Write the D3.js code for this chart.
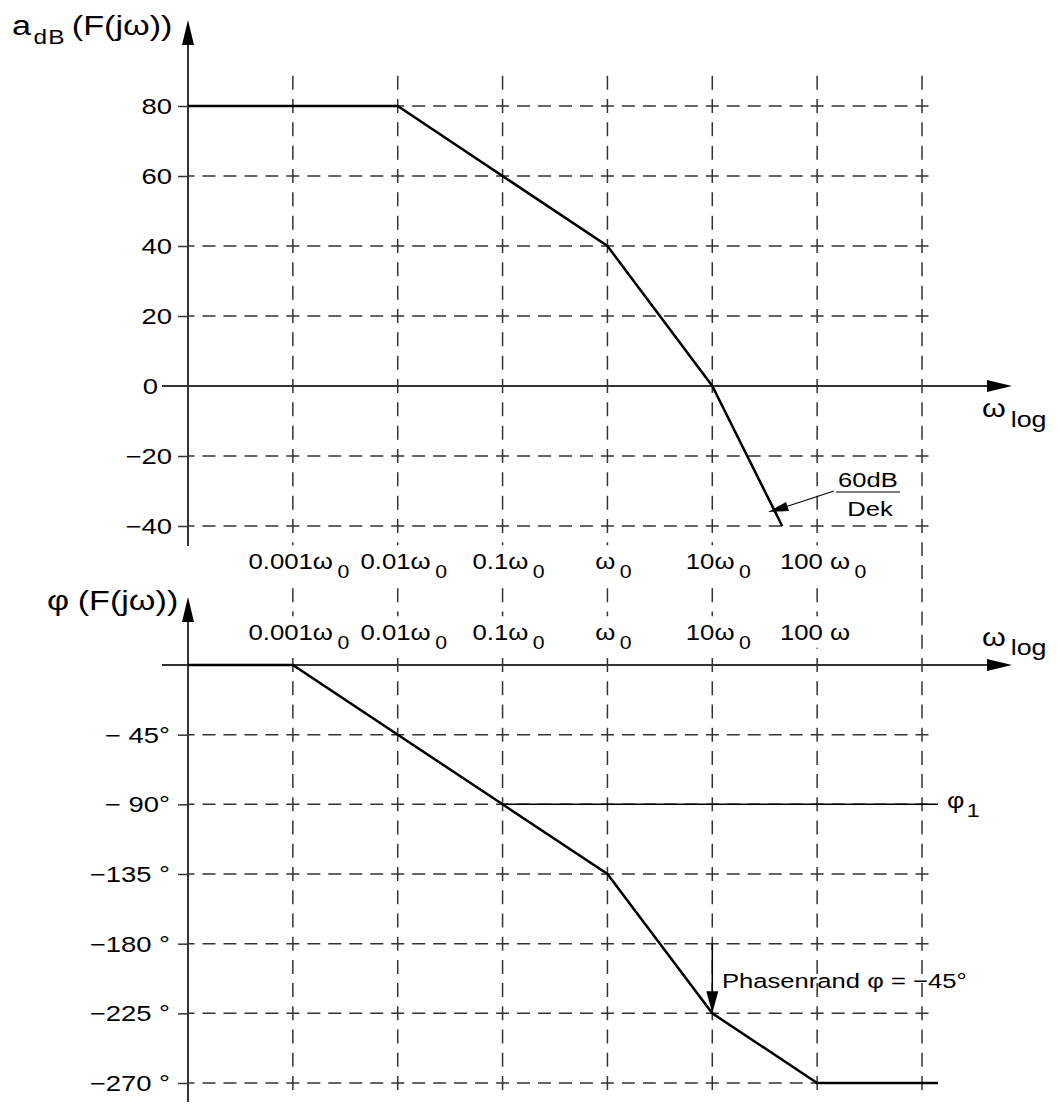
<!DOCTYPE html>
<html>
<head>
<meta charset="utf-8">
<script src="https://cdn.jsdelivr.net/npm/d3@7"></script>
<style>
  body { margin: 0; background: #fff; }
  text { font-family: "Liberation Sans", Arial, sans-serif; fill: #000; }
</style>
</head>
<body>
<script>
// decades in units of omega_0
const decades = [0.001, 0.01, 0.1, 1, 10, 100, 1000];
const magLabels = [["0.001ω", "0"], ["0.01ω", "0"], ["0.1ω", "0"], ["ω", "0"], ["10ω", "0"], ["100 ω", "0"]];
const phaseLabels = [["0.001ω", "0"], ["0.01ω", "0"], ["0.1ω", "0"], ["ω", "0"], ["10ω", "0"], ["100 ω", ""]];

const magTicks = [80, 60, 40, 20, 0, -20, -40];
const magTickLabels = ["80", "60", "40", "20", "0", "−20", "−40"];
const phaseTicks = [-45, -90, -135, -180, -225, -270];
const phaseTickLabels = ["− 45°", "− 90°", "−135 °", "−180 °", "−225 °", "−270 °"];

// asymptotic curves
const magW = [0.0001, 0.01, 1, 10, 46.4];
const magDb = [80, 80, 40, 0, -40];
const phaseW = [0.0001, 0.001, 0.1, 1, 10, 100, 1420];
const phaseDeg = [0, 0, -90, -135, -225, -270, -270];

const svg = d3.select("body").append("svg")
    .attr("width", 1058)
    .attr("height", 1106);

const x = d3.scaleLog().domain([0.0001, 1000]).range([188, 922]);
const yMag = d3.scaleLinear().domain([-40, 80]).range([526, 106]);
const yPh = d3.scaleLinear().domain([-270, 0]).range([1083, 665]);

const axisColor = "#333";
const gridRight = 930;
const SX = 1.22; // the lettering in the picture is a bit wide
const SX_LAB = 1.12;

function label(x0, y0, size, anchor, sx) {
  return svg.append("text")
      .attr("transform", `translate(${x0},${y0}) scale(${sx || SX},1)`)
      .attr("font-size", size)
      .attr("text-anchor", anchor || "start");
}

// dash offset so that a dash is centred on a given point
function dashOffset(start, centre, period, dash) {
  return (((dash / 2 - (centre - start)) % period) + period) % period;
}

// vertical grid lines, one segment per panel
const pMag = (yMag(40) - yMag(60)) / 3;
const pPh = (yPh(-45) - yPh(0)) / 3;
[[70, 546, yMag(80), pMag], [546, 1092, yPh(0), pPh]].forEach(([y1, y2, c, p]) => {
  svg.append("g").selectAll("line")
      .data(decades)
      .join("line")
      .attr("x1", d => x(d)).attr("x2", d => x(d))
      .attr("y1", y1).attr("y2", y2)
      .attr("stroke", axisColor)
      .attr("stroke-width", 1.5)
      .attr("stroke-dasharray", `14,${p - 14}`)
      .attr("stroke-dashoffset", dashOffset(y1, c, p, 14));
});

// horizontal grid lines
const pX = (x(0.001) - x(0.0001)) / 5;
function hGrid(vals, y) {
  svg.append("g").selectAll("line")
      .data(vals)
      .join("line")
      .attr("x1", 188).attr("x2", gridRight)
      .attr("y1", d => y(d)).attr("y2", d => y(d))
      .attr("stroke", axisColor)
      .attr("stroke-width", 1.5)
      .attr("stroke-dasharray", `13,${pX - 13}`)
      .attr("stroke-dashoffset", dashOffset(188, 188, pX, 13));
}
hGrid(magTicks.filter(d => d !== 0), yMag);
hGrid(phaseTicks, yPh);

// x labels with white background, hiding the grid behind them
function whiteBox(t, x0, y0) {
  const b = t.node().getBBox();
  svg.insert("rect", "text")
      .attr("x", x0 + b.x * SX_LAB - 3)
      .attr("y", b.y + y0 - 3)
      .attr("width", b.width * SX_LAB + 6)
      .attr("height", b.height + 6)
      .attr("fill", "#fff");
}
const rowStarts = [];
magLabels.forEach((l, i) => {
  const cx = x(decades[i]) + 6;
  const t = label(cx, 569, 23, "middle", SX_LAB);
  t.append("tspan").text(l[0]);
  t.append("tspan").attr("dx", 4).attr("dy", 9).attr("font-size", 19).text(l[1]);
  const b = t.node().getBBox();
  rowStarts.push(cx + b.x * SX_LAB);
  whiteBox(t, cx, 569);
});
phaseLabels.forEach((l, i) => {
  const sx = rowStarts[i];
  const t = label(sx, 640, 23, "start", SX_LAB);
  t.append("tspan").text(l[0]);
  if (l[1]) t.append("tspan").attr("dx", 4).attr("dy", 9).attr("font-size", 19).text(l[1]);
  whiteBox(t, sx, 640);
});

// y ticks
const magAxis = svg.append("g")
    .attr("transform", "translate(188,0)")
    .call(d3.axisLeft(yMag).tickValues(magTicks).tickSize(10).tickFormat(""));
const phAxis = svg.append("g")
    .attr("transform", "translate(188,0)")
    .call(d3.axisLeft(yPh).tickValues(phaseTicks).tickSize(10).tickFormat(""));
[magAxis, phAxis].forEach(a => {
  a.select(".domain").remove();
  a.selectAll(".tick line").attr("stroke", axisColor).attr("stroke-width", 1.5);
});
magAxis.selectAll(".tick").filter(d => d === 0).remove();

magTicks.forEach((d, i) => {
  label(d === 0 ? 158 : 172, yMag(d) + 8, 22.5, "end").text(magTickLabels[i]);
});
phaseTicks.forEach((d, i) => {
  label(170, yPh(d) + 8, 22.5, "end").text(phaseTickLabels[i]);
});

// axis lines and arrows
function vAxis(yTop, yBottom) {
  svg.append("line").attr("x1", 188).attr("x2", 188)
      .attr("y1", yBottom).attr("y2", yTop + 20)
      .attr("stroke", axisColor).attr("stroke-width", 2);
  svg.append("path")
      .attr("d", `M188,${yTop} L182,${yTop + 25} L194,${yTop + 25} Z`)
      .attr("fill", "#000");
}
function hAxis(yy) {
  svg.append("line").attr("x1", 162).attr("x2", 995)
      .attr("y1", yy).attr("y2", yy)
      .attr("stroke", axisColor).attr("stroke-width", 2);
  svg.append("path")
      .attr("d", `M1012,${yy} L987,${yy - 6} L987,${yy + 6} Z`)
      .attr("fill", "#000");
}
vAxis(20, 546);
hAxis(yMag(0));
vAxis(597, 1102);
hAxis(yPh(0));

// curves
const magLine = d3.line().x(d => x(d[0])).y(d => yMag(d[1]));
const phLine = d3.line().x(d => x(d[0])).y(d => yPh(d[1]));

svg.append("path")
    .datum(d3.zip(magW, magDb))
    .attr("d", magLine)
    .attr("fill", "none").attr("stroke", "#000").attr("stroke-width", 2.5);

svg.append("path")
    .datum(d3.zip(phaseW, phaseDeg))
    .attr("d", phLine)
    .attr("fill", "none").attr("stroke", "#000").attr("stroke-width", 2.5);

// phi_1 line at -90
svg.append("line")
    .attr("x1", x(0.1)).attr("x2", 938)
    .attr("y1", yPh(-90)).attr("y2", yPh(-90))
    .attr("stroke", "#000").attr("stroke-width", 1.5);
const phi1 = label(947, 808, 22);
phi1.append("tspan").text("φ");
phi1.append("tspan").attr("dx", 2).attr("dy", 9).attr("font-size", 19).text("1");

// phase margin arrow
svg.append("line")
    .attr("x1", x(10)).attr("x2", x(10))
    .attr("y1", yPh(-180)).attr("y2", yPh(-225) - 18)
    .attr("stroke", "#000").attr("stroke-width", 1.5);
svg.append("path")
    .attr("d", `M${x(10)},${yPh(-225)} L${x(10) - 6},${yPh(-225) - 22} L${x(10) + 6},${yPh(-225) - 22} Z`)
    .attr("fill", "#000");
label(722, 988, 21).text("Phasenrand φ = −45°");

// 60dB/Dek annotation
label(868, 487, 21, "middle").text("60dB");
svg.append("line").attr("x1", 836).attr("x2", 900).attr("y1", 492).attr("y2", 492)
    .attr("stroke", "#000").attr("stroke-width", 1.2);
label(870, 516, 21, "middle").text("Dek");
svg.append("line").attr("x1", 834).attr("y1", 491).attr("x2", 782).attr("y2", 508)
    .attr("stroke", "#000").attr("stroke-width", 1.2);
svg.append("path")
    .attr("d", "M768,512 L786,502 L789,511 Z")
    .attr("fill", "#000");

// axis titles
const t1 = label(12, 35, 28);
t1.append("tspan").text("a");
t1.append("tspan").attr("dx", 2).attr("dy", 9).attr("font-size", 20).attr("letter-spacing", 1).text("dB");
t1.append("tspan").attr("dx", 5).attr("dy", -9).text("(F(jω))");

const t2 = label(47, 610, 28);
t2.append("tspan").text("φ");
t2.append("tspan").attr("dx", 7).text("(F(jω))");

const w1 = label(982, 417, 25);
w1.append("tspan").text("ω");
w1.append("tspan").attr("dx", 4).attr("dy", 10).attr("font-size", 22).text("log");

const w2 = label(982, 646, 25);
w2.append("tspan").text("ω");
w2.append("tspan").attr("dx", 4).attr("dy", 9).attr("font-size", 22).text("log");
</script>
</body>
</html>
